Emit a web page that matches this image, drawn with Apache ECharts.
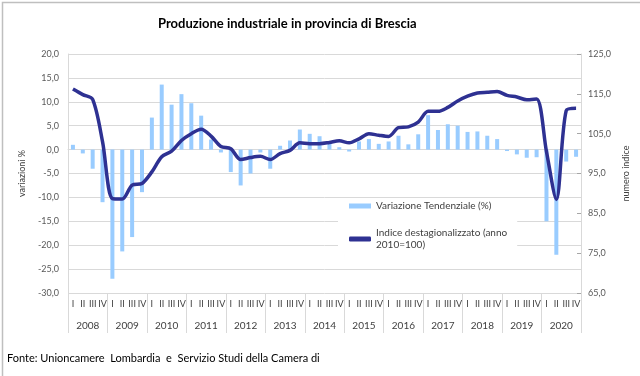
<!DOCTYPE html>
<html>
<head>
<meta charset="utf-8">
<script src="https://cdn.jsdelivr.net/npm/echarts@6/dist/echarts.min.js"></script>
<style>
  html, body { margin: 0; padding: 0; background: #fff; }
  #chart { width: 640px; height: 376px; }
</style>
</head>
<body>
<div id="chart"></div>
<script>
const years = ['2008', '2009', '2010', '2011', '2012', '2013', '2014', '2015', '2016', '2017', '2018', '2019', '2020']
const quarterNames = ['I', 'II', 'III', 'IV']

// variazione tendenziale (%) - asse sinistro
const variazione = [
  1.0, -0.8, -4.0, -11.0,
  -27.0, -21.3, -18.3, -8.9,
  6.7, 13.6, 9.4, 11.6,
  9.7, 7.1, 2.1, -0.6,
  -4.7, -7.5, -5.0, -0.6,
  -4.0, 0.8, 1.9, 4.2,
  3.3, 2.8, 1.3, 0.5,
  -0.4, 1.7, 2.2, 1.2,
  1.7, 2.9, 1.1, 3.2,
  7.2, 4.1, 5.3, 5.0,
  3.7, 3.8, 2.9, 2.2,
  -0.3, -1.0, -1.7, -1.6,
  -15.0, -22.0, -2.5, -1.5
]

// indice destagionalizzato (2010=100) - asse destro
const indice = [
  116.2, 114.8, 113.6, 103.0,
  88.7, 88.6, 92.1, 92.5,
  95.4, 99.2, 100.6, 103.3,
  105.0, 106.1, 104.4, 101.8,
  101.2, 98.5, 99.0, 99.3,
  98.5, 100.0, 100.8, 102.7,
  102.5, 102.5, 102.8, 103.2,
  102.7, 103.7, 105.0, 104.6,
  104.3, 106.5, 106.7, 107.9,
  110.6, 110.6, 111.6, 113.2,
  114.4, 115.2, 115.4, 115.6,
  114.6, 114.2, 113.5, 113.7,
  100.5, 88.5, 110.8, 111.4
]

const quarters = []
years.forEach(() => quarterNames.forEach(q => quarters.push(q)))

const fmt = v => v.toFixed(1).replace('.', ',')
const font = 'Lato, "Liberation Sans", sans-serif'
const gray = '#d9d9d9'

const chart = echarts.init(document.getElementById('chart'))
chart.setOption({
  animation: false,
  textStyle: { fontFamily: font },
  title: {
    text: 'Produzione industriale in provincia di Brescia',
    left: 158,
    top: 17,
    padding: 0,
    textStyle: { fontSize: 13, fontWeight: 'bold', color: '#000', fontFamily: font }
  },
  graphic: [{
    type: 'rect',
    left: 0,
    top: 0,
    shape: { width: 639, height: 375 },
    style: { fill: 'none', stroke: '#bfbfbf', lineWidth: 1.5 },
    silent: true
  }, {
    type: 'text',
    left: 7,
    top: 353,
    style: {
      text: 'Fonte: Unioncamere  Lombardia  e  Servizio Studi della Camera di',
      fontSize: 11,
      fontFamily: font,
      fill: '#000'
    }
  }],
  grid: { left: 68, right: 59, top: 54, bottom: 83 },
  legend: {
    orient: 'vertical',
    left: 338,
    top: 199,
    padding: [1, 10, 14, 11],
    itemGap: 15,
    itemWidth: 22,
    itemHeight: 5,
    backgroundColor: '#fff',
    textStyle: { fontSize: 10, color: '#404040', fontFamily: font, lineHeight: 12 },
    data: [
      { name: 'Variazione Tendenziale (%)', icon: 'rect' },
      { name: 'Indice destagionalizzato (anno\n2010=100)', icon: 'roundRect' }
    ]
  },
  xAxis: [{
    type: 'category',
    data: quarters,
    axisLine: { lineStyle: { color: gray } },
    axisTick: { show: false },
    axisLabel: { interval: 0, fontSize: 9, color: '#404040', margin: 7 }
  }, {
    type: 'category',
    data: years,
    position: 'bottom',
    axisLine: { show: false },
    axisTick: { show: true, interval: 0, length: 40, lineStyle: { color: gray } },
    axisLabel: { interval: 0, fontSize: 10, color: '#404040', margin: 28 }
  }],
  yAxis: [{
    type: 'value',
    min: -30,
    max: 20,
    interval: 5,
    name: 'variazioni %',
    nameLocation: 'middle',
    nameRotate: 90,
    nameGap: 40,
    nameTextStyle: { fontSize: 9, color: '#404040' },
    axisLine: { show: true, lineStyle: { color: gray } },
    axisTick: { show: false },
    axisLabel: { formatter: fmt, fontSize: 9, color: '#595959', margin: 9 },
    splitLine: { lineStyle: { color: gray } }
  }, {
    type: 'value',
    min: 65,
    max: 125,
    interval: 10,
    position: 'right',
    name: 'numero indice',
    nameLocation: 'middle',
    nameRotate: 90,
    nameGap: 40,
    nameTextStyle: { fontSize: 9, color: '#404040' },
    axisLine: { show: true, lineStyle: { color: gray } },
    axisTick: { show: true, inside: true, length: 4, lineStyle: { color: '#a6a6a6' } },
    axisLabel: { formatter: fmt, fontSize: 9, color: '#595959', margin: 7 },
    splitLine: { show: false }
  }],
  series: [{
    name: 'Variazione Tendenziale (%)',
    type: 'bar',
    data: variazione,
    barWidth: 4,
    itemStyle: { color: '#99ccff' }
  }, {
    name: 'Indice destagionalizzato (anno\n2010=100)',
    type: 'line',
    yAxisIndex: 1,
    data: indice,
    smooth: 0.3,
    symbol: 'none',
    lineStyle: { color: '#2e3192', width: 3.5 },
    itemStyle: { color: '#2e3192' }
  }]
})
</script>
</body>
</html>
